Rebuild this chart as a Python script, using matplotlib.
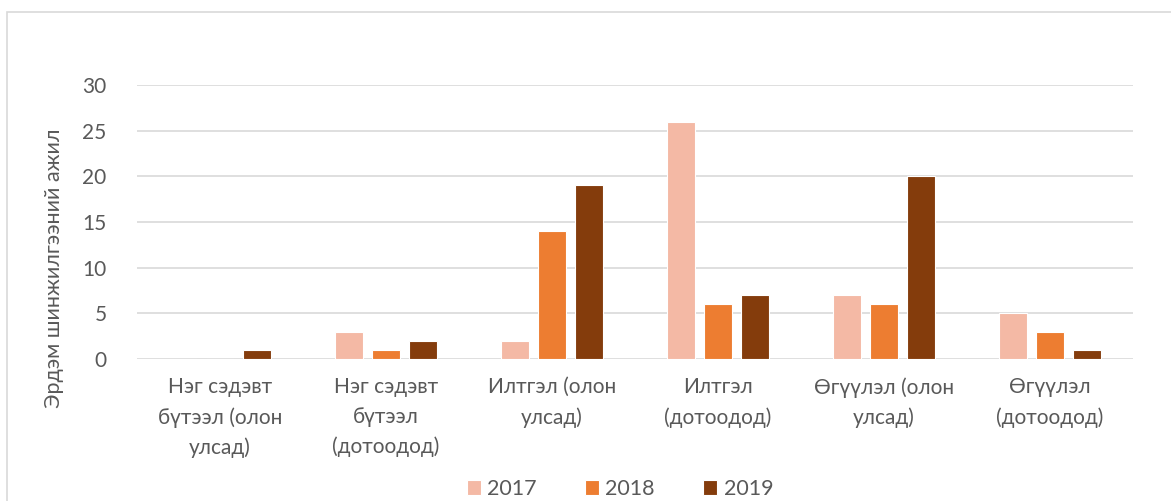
import numpy as np
import matplotlib.pyplot as plt
from matplotlib.patches import Rectangle

plt.rcParams['font.family'] = ['Lato', 'DejaVu Sans']

categories = ["Нэг сэдэвт\nбүтээл (олон\nулсад)", "Нэг сэдэвт\nбүтээл\n(дотоодод)",
              "Илтгэл (олон\nулсад)", "Илтгэл\n(дотоодод)",
              "Өгүүлэл (олон\nулсад)", "Өгүүлэл\n(дотоодод)"]
years = ["2017", "2018", "2019"]
vals_2017 = [0, 3, 2, 26, 7, 5]
vals_2018 = [0, 1, 14, 6, 6, 3]
vals_2019 = [1, 2, 19, 7, 20, 1]
colors = ["#F4B9A5", "#ED7D31", "#843C0C"]
text_col = "#595959"

fig = plt.figure(figsize=(11.71, 5.01), dpi=100)
# chart border
fig.patches.append(Rectangle((7/1171, -0.1), 1.2, 1 - 12/501 + 0.1, transform=fig.transFigure,
                             fill=False, edgecolor="#D9D9D9", linewidth=1.2))

ax = fig.add_axes([137/1171, 1 - 359/501, (1133-137)/1171, (359-85)/501])
x = np.arange(len(categories))
step = 0.223
w = 0.169
for i, (vals, c, lab) in enumerate(zip([vals_2017, vals_2018, vals_2019], colors, years)):
    ax.bar(x + (i-1)*step, vals, width=w, color=c, edgecolor="white", linewidth=0.8, label=lab, zorder=3)

ax.set_xlim(-0.5, len(categories) - 0.5)
ax.set_ylim(0, 30)
ax.set_yticks(range(0, 31, 5))
ax.grid(axis='y', color="#D9D9D9", linewidth=1.2, zorder=0)
for s in ax.spines.values():
    s.set_visible(False)
ax.tick_params(length=0, colors=text_col, labelsize=15)
ax.tick_params(axis='y', pad=22)
ax.tick_params(axis='x', pad=13)
ax.set_xticks(x)
ax.set_xticklabels(categories, fontsize=15, color=text_col, linespacing=1.6)
ax.set_ylabel("Эрдэм шинжилгээний ажил", fontsize=15.5, color=text_col)
ax.yaxis.set_label_coords(-73/996, 0.33)

leg = fig.legend(loc='center', bbox_to_anchor=(620/1171, 1 - 489/501), ncol=3, frameon=False,
                 fontsize=15.5, handlelength=0.65, handleheight=0.65, columnspacing=2.25,
                 handletextpad=0.3)
for t in leg.get_texts():
    t.set_color(text_col)

plt.savefig("out.png", dpi=100)
